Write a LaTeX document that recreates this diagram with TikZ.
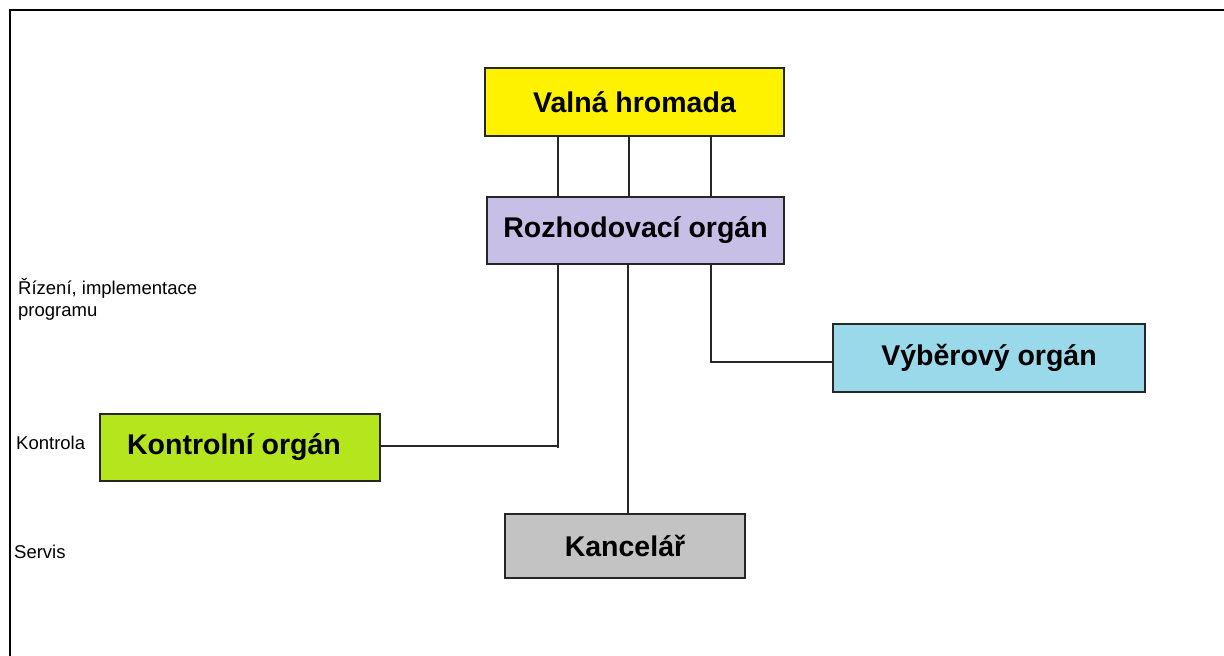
\documentclass[tikz,border=0pt]{standalone}
\usepackage{fontspec}
\setmainfont{Liberation Sans}
\definecolor{cyellow}{HTML}{FFF200}
\definecolor{clav}{HTML}{C8BFE7}
\definecolor{cblue}{HTML}{99D9EA}
\definecolor{cgreen}{HTML}{B5E61D}
\definecolor{cgray}{HTML}{C3C3C3}
\definecolor{cline}{HTML}{262626}
\tikzset{
  orgbox/.style={draw=cline, line width=1.5pt, rectangle, inner sep=0pt,
    font=\fontsize{28.5}{34}\selectfont\bfseries, text=black},
  sidelabel/.style={anchor=base west, inner sep=0pt,
    font=\fontsize{18.5}{22}\selectfont, text=black},
  conn/.style={draw=cline, line width=1.5pt}
}
\begin{document}
\begin{tikzpicture}[x=1pt,y=-1pt]
\useasboundingbox (0,0) rectangle (1224,656);
% outer frame (top and left edges)
\draw[line width=2pt, black] (10,656) -- (10,10) -- (1224,10);
% boxes
\node[orgbox, fill=cyellow, minimum width=299pt, minimum height=68pt] (valna) at (634.5,102) {Valná hromada};
\node[orgbox, fill=clav, minimum width=297pt, minimum height=67pt] (rozh) at (635.5,230.5) {\raisebox{-2pt}{Rozhodovací orgán}};
\node[orgbox, fill=cblue, minimum width=312pt, minimum height=68pt] (vyber) at (989,358) {Výběrový orgán};
\node[orgbox, fill=cgreen, minimum width=280pt, minimum height=67pt] (kontrol) at (240,447.5) {\hspace*{-12pt}\raisebox{-2pt}{Kontrolní orgán}};
\node[orgbox, fill=cgray, minimum width=240pt, minimum height=64pt] (kanc) at (625,546) {Kancelář};
% side labels
\node[sidelabel] (rizeni) at (18,294) {Řízení, implementace};
\node[sidelabel] (program) at (18,316) {programu};
\node[sidelabel] (kontrola) at (16,449) {Kontrola};
\node[sidelabel] (servis) at (14,558) {Servis};
% connectors
\coordinate (kj) at (558,448);
\draw[conn] (558,0 |- valna.south) -- (558,0 |- rozh.north);
\draw[conn] (629,0 |- valna.south) -- (629,0 |- rozh.north);
\draw[conn] (711,0 |- valna.south) -- (711,0 |- rozh.north);
\draw[conn] (558,0 |- rozh.south) -- (kj);
\draw[conn] ([yshift=1.5pt]kontrol.east) -- (558,446);
\draw[conn] (628,0 |- rozh.south) -- (628,0 |- kanc.north);
\draw[conn] (711,0 |- rozh.south) |- ([yshift=-4pt]vyber.west);
\end{tikzpicture}
\end{document}
